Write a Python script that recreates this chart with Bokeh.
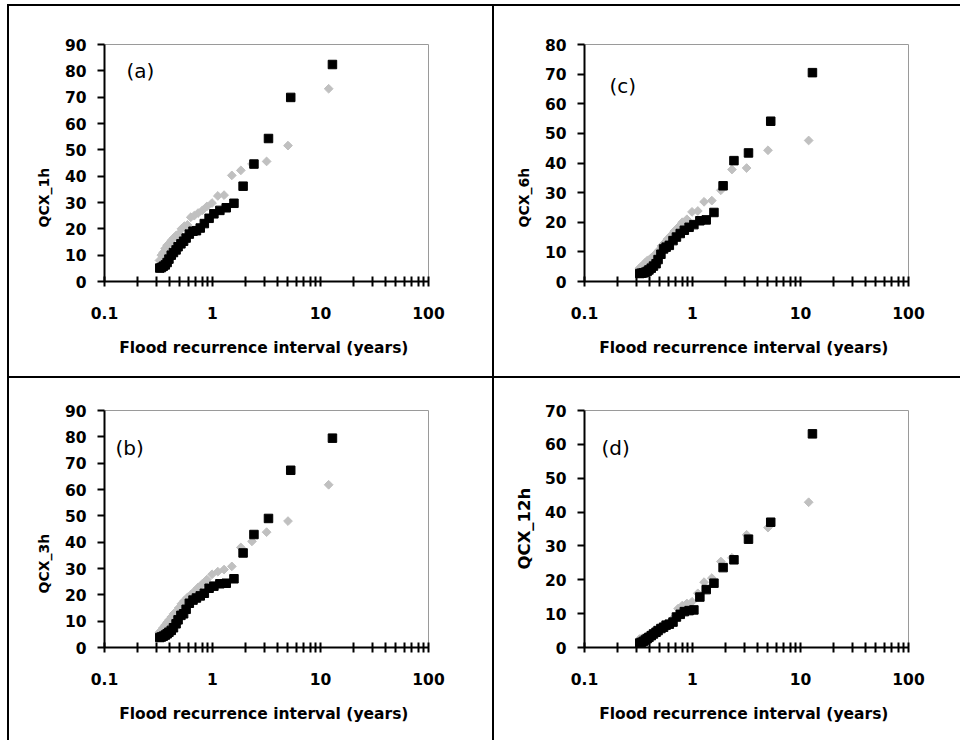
import math
from bokeh.plotting import figure
from bokeh.models import (Range1d, FixedTicker, SingleIntervalTicker,
                          CustomJSTickFormatter, Label, Div, Title)
from bokeh.layouts import row, column
from bokeh.embed import file_html
from bokeh.resources import INLINE

# ---------------- data ----------------
# flood recurrence interval (years) of the ranked events
T_square = [12.9, 5.3, 3.3, 2.42, 1.92, 1.58, 1.34, 1.17, 1.03, 0.93, 0.84, 0.77,
            0.71, 0.66, 0.61, 0.57, 0.54, 0.51, 0.48, 0.46, 0.435, 0.415, 0.395,
            0.38, 0.365, 0.35, 0.337, 0.325]
T_diamond = [11.9, 5.0, 3.17, 2.32, 1.83, 1.51, 1.28, 1.12, 0.99, 0.887, 0.805,
             0.736, 0.678, 0.629, 0.586, 0.549, 0.516, 0.486, 0.461, 0.437, 0.416,
             0.397, 0.38, 0.364, 0.349, 0.336, 0.323]

q1h_square = [82.4, 69.9, 54.3, 44.6, 36.2, 29.7, 28.0, 27.0, 25.7, 24.0, 22.0, 20.3,
              19.3, 19.1, 18.0, 16.5, 15.3, 14.3, 13.2, 12.0, 11.0, 10.0, 8.5, 7.2,
              6.3, 5.8, 5.3, 5.1]
q1h_diamond = [73.2, 51.6, 45.6, 44.6, 42.2, 40.3, 32.8, 32.5, 29.8, 28.5, 27.0, 26.0,
               25.0, 24.4, 21.5, 21.0, 20.0, 18.0, 17.5, 16.5, 15.6, 14.5, 13.7, 12.5,
               11.0, 10.0, 8.0]

q3h_square = [79.5, 67.3, 49.0, 42.9, 35.9, 26.1, 24.4, 24.2, 23.3, 22.5, 20.6, 19.6,
              18.8, 18.0, 16.8, 14.5, 12.8, 12.2, 10.5, 9.0, 7.5, 6.5, 5.8, 5.2, 4.7,
              4.3, 4.0, 3.8]
q3h_diamond = [61.8, 48.0, 43.8, 40.3, 38.0, 30.8, 29.6, 28.8, 27.8, 25.8, 24.2, 22.8,
               21.3, 20.0, 19.0, 17.8, 16.6, 15.0, 13.6, 12.8, 11.6, 10.5, 9.5, 8.5,
               7.5, 6.5, 5.8]

q6h_square = [70.5, 54.1, 43.4, 40.8, 32.3, 23.3, 20.8, 20.5, 19.2, 18.3, 17.3, 16.2,
              15.0, 13.8, 12.2, 11.6, 11.0, 9.2, 7.4, 6.0, 5.2, 4.5, 3.9, 3.4, 3.1,
              2.9, 2.8, 2.7]
q6h_diamond = [47.6, 44.3, 38.3, 37.8, 30.8, 27.3, 26.9, 23.8, 23.5, 21.0, 20.0, 18.3,
               17.0, 15.5, 14.3, 13.0, 12.0, 10.5, 9.5, 8.5, 8.0, 7.3, 7.0, 6.3, 5.6,
               5.0, 4.5]

q12h_square = [63.1, 37.0, 32.0, 25.9, 23.6, 19.0, 17.1, 14.9, 11.1, 10.9, 10.6, 9.8,
               9.0, 7.5, 6.9, 6.6, 6.0, 5.6, 5.0, 4.5, 4.0, 3.5, 3.0, 2.6, 2.2, 1.8,
               1.5, 1.3]
q12h_diamond = [42.9, 35.4, 33.3, 26.5, 25.4, 20.5, 19.3, 16.0, 13.5, 13.0, 12.4, 11.5,
                9.0, 7.5, 6.8, 6.2, 5.5, 5.0, 4.6, 4.2, 3.8, 3.5, 3.2, 3.0, 2.8, 2.6,
                2.5]

x_major_ticks = [0.1, 1, 10, 100]
x_minor_ticks = [m * d for d in (0.1, 1, 10) for m in range(2, 10)]
x_label = "Flood recurrence  interval (years)"

FONT = "DejaVu Sans"


def make_panel(ylabel, tag, ymax, q_sq, q_dia, width, height,
               mb_left, mb_right, mb_top, mb_bottom, tag_x, tag_y,
               ylab_offset, ylab_size, ylab_standoff):
    p = figure(width=width, height=height, x_axis_type="log",
               x_range=Range1d(0.1, 100), y_range=Range1d(0, ymax),
               output_backend="svg", toolbar_location=None,
               min_border_left=mb_left, min_border_right=mb_right,
               min_border_top=mb_top, min_border_bottom=mb_bottom)
    p.xgrid.visible = False
    p.ygrid.visible = False
    p.background_fill_color = "white"
    p.border_fill_color = "white"
    p.outline_line_color = "#9a9a9a"
    p.outline_line_width = 1

    p.scatter(T_diamond, q_dia, marker="square", size=6.2, angle=math.pi / 4,
              fill_color="#C0C0C0", line_color="#C0C0C0")
    p.scatter(T_square, q_sq, marker="square", size=8.5,
              fill_color="black", line_color="black")

    xa = p.xaxis[0]
    xa.ticker = FixedTicker(ticks=x_major_ticks, minor_ticks=x_minor_ticks)
    xa.formatter = CustomJSTickFormatter(
        code="return tick < 1 ? tick.toFixed(1) : tick.toFixed(0);")
    xa.axis_line_color = "black"
    xa.axis_line_width = 2
    xa.major_tick_line_color = "black"
    xa.major_tick_line_width = 2
    xa.minor_tick_line_color = "black"
    xa.minor_tick_line_width = 2
    xa.major_tick_in = 5
    xa.major_tick_out = 5
    xa.minor_tick_in = 5
    xa.minor_tick_out = 5
    xa.major_label_standoff = 20
    xa.major_label_text_font = FONT
    xa.major_label_text_font_style = "bold"
    xa.major_label_text_font_size = "15.5px"
    xa.major_label_text_color = "black"
    xa.axis_label = x_label
    xa.axis_label_standoff = 17
    xa.axis_label_text_font = FONT
    xa.axis_label_text_font_style = "bold"
    xa.axis_label_text_font_size = "15.5px"
    xa.axis_label_text_color = "black"

    ya = p.yaxis[0]
    ya.ticker = SingleIntervalTicker(interval=10, num_minor_ticks=0)
    ya.axis_line_color = "black"
    ya.axis_line_width = 2
    ya.major_tick_line_color = "black"
    ya.major_tick_line_width = 2
    ya.major_tick_in = 0
    ya.major_tick_out = 7
    ya.minor_tick_line_color = None
    ya.major_label_standoff = 11
    ya.major_label_text_font = FONT
    ya.major_label_text_font_style = "bold"
    ya.major_label_text_font_size = "15.5px"
    ya.major_label_text_color = "black"

    p.add_layout(Title(text=ylabel, align="left", offset=ylab_offset,
                       text_font=FONT, text_font_style="bold",
                       text_font_size=ylab_size, text_color="black",
                       standoff=ylab_standoff), "left")
    p.add_layout(Label(x=tag_x, y=tag_y, x_units="screen", y_units="screen",
                       text=tag, text_align="left", text_baseline="middle",
                       text_font=FONT, text_font_size="20px",
                       text_color="black"))
    return p


W_L, W_R = 483, 466
H_T, H_B = 370, 362

pa = make_panel("QCX_1h", "(a)", 90, q1h_square, q1h_diamond, W_L, H_T,
                95, 64, 38, 95, 22, 211, 54, "14px", 20)
pc = make_panel("QCX_6h", "(c)", 80, q6h_square, q6h_diamond, W_R, H_T,
                90, 52, 38, 95, 25, 196, 54, "14px", 20)
pb = make_panel("QCX_3h", "(b)", 90, q3h_square, q3h_diamond, W_L, H_B,
                95, 64, 32, 93, 11, 200, 54, "14px", 20)
pd = make_panel("QCX_12h", "(d)", 70, q12h_square, q12h_diamond, W_R, H_B,
                90, 52, 32, 93, 17, 200, 78, "16.5px", 16)


def hline():
    return Div(text="", width=2 + W_L + 2 + W_R, height=2, margin=0,
               styles={"background-color": "black"})


def vline(h):
    return Div(text="", width=2, height=h, margin=0,
               styles={"background-color": "black"})


layout = column(hline(),
                row(vline(H_T), pa, vline(H_T), pc, spacing=0),
                hline(),
                row(vline(H_B), pb, vline(H_B), pd, spacing=0),
                spacing=0, margin=(4, 0, 0, 7))

open("out.html", "w").write(file_html(layout, INLINE))
